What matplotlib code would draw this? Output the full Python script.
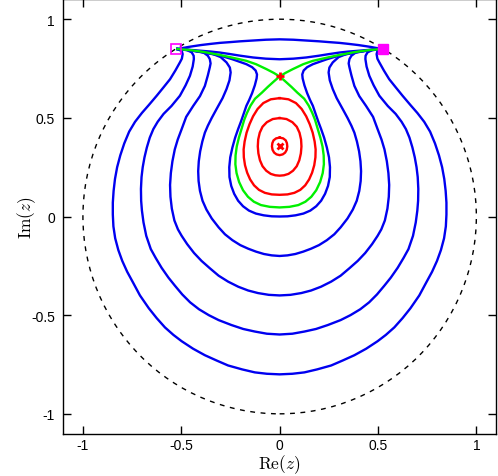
import matplotlib
matplotlib.use("Agg")
import matplotlib.pyplot as plt
from matplotlib.patches import Circle

# ---- data (left halves, x <= 0; curves are mirror-symmetric about Re(z)=0) ----
endpoint_left = (-0.527, 0.849)
endpoint_right = (0.527, 0.849)
saddle = (0.0, 0.710)
center = (0.0, 0.355)

b0_x = [-0.52, -0.46, -0.40, -0.35, -0.304, -0.25, -0.20, -0.135, -0.07, 0.0]
b0_y = [0.849, 0.860, 0.869, 0.875, 0.880, 0.884, 0.888, 0.892, 0.896, 0.898]

b1_x = [-0.52, -0.46, -0.40, -0.35, -0.304, -0.25, -0.20, -0.135, -0.07, 0.0]
b1_y = [0.849, 0.845, 0.840, 0.836, 0.831, 0.823, 0.815, 0.806, 0.800, 0.797]

u2_x = [-0.52, -0.46, -0.40, -0.34, -0.30, -0.24, -0.20, -0.169, -0.14, -0.122, -0.115, -0.117, -0.126,
        -0.140, -0.155, -0.169, -0.183, -0.197, -0.211, -0.226, -0.240, -0.251, -0.256, -0.255, -0.246,
        -0.231, -0.211, -0.186, -0.156, -0.121, -0.081, -0.040, 0.0]
u2_y = [0.849, 0.843, 0.833, 0.823, 0.815, 0.797, 0.783, 0.772, 0.757, 0.740, 0.720, 0.700, 0.665,
        0.625, 0.590, 0.561, 0.520, 0.480, 0.443, 0.400, 0.350, 0.300, 0.250, 0.200, 0.155,
        0.115, 0.080, 0.052, 0.030, 0.015, 0.006, 0.001, 0.0]

u3_x = [-0.52, -0.46, -0.40, -0.338, -0.300, -0.270, -0.253, -0.249, -0.255, -0.270, -0.290, -0.321,
        -0.345, -0.365, -0.380, -0.393, -0.404, -0.411, -0.414, -0.412, -0.405, -0.392, -0.372, -0.345,
        -0.310, -0.278, -0.240, -0.200, -0.160, -0.120, -0.080, -0.040, 0.0]
u3_y = [0.849, 0.843, 0.835, 0.823, 0.808, 0.781, 0.755, 0.730, 0.690, 0.646, 0.600, 0.544,
        0.500, 0.460, 0.425, 0.380, 0.330, 0.280, 0.230, 0.180, 0.130, 0.080, 0.035, -0.010,
        -0.055, -0.090, -0.120, -0.145, -0.163, -0.178, -0.190, -0.197, -0.200]

u4_x = [-0.52, -0.45, -0.388, -0.365, -0.355, -0.351, -0.355, -0.365, -0.380, -0.405, -0.439, -0.475,
        -0.498, -0.518, -0.533, -0.545, -0.553, -0.557, -0.555, -0.548, -0.535, -0.517, -0.498, -0.470,
        -0.435, -0.397, -0.355, -0.310, -0.262, -0.210, -0.160, -0.110, -0.055, 0.0]
u4_y = [0.849, 0.843, 0.832, 0.815, 0.798, 0.776, 0.756, 0.715, 0.662, 0.610, 0.561, 0.505,
        0.443, 0.390, 0.340, 0.280, 0.220, 0.160, 0.100, 0.040, -0.020, -0.065, -0.098, -0.140,
        -0.185, -0.225, -0.262, -0.300, -0.330, -0.356, -0.375, -0.388, -0.397, -0.400]

u5_x = [-0.52, -0.47, -0.447, -0.437, -0.436, -0.442, -0.456, -0.478, -0.507, -0.550, -0.590, -0.620,
        -0.642, -0.660, -0.675, -0.687, -0.696, -0.702, -0.705, -0.704, -0.700, -0.692, -0.678, -0.655,
        -0.630, -0.600, -0.565, -0.532, -0.495, -0.455, -0.410, -0.360, -0.310, -0.245, -0.185, -0.126,
        -0.065, 0.0]
u5_y = [0.849, 0.843, 0.832, 0.815, 0.798, 0.760, 0.713, 0.665, 0.612, 0.560, 0.520, 0.480,
        0.443, 0.400, 0.350, 0.300, 0.250, 0.200, 0.140, 0.080, 0.030, -0.030, -0.098, -0.165,
        -0.210, -0.260, -0.310, -0.351, -0.395, -0.435, -0.470, -0.500, -0.525, -0.550, -0.570, -0.583,
        -0.594, -0.598]

u6_x = [-0.52, -0.497, -0.493, -0.497, -0.507, -0.530, -0.557, -0.590, -0.625, -0.665, -0.700, -0.735,
        -0.765, -0.790, -0.810, -0.826, -0.837, -0.844, -0.848, -0.848, -0.845, -0.836, -0.820, -0.800,
        -0.775, -0.745, -0.710, -0.665, -0.625, -0.583, -0.540, -0.498, -0.440, -0.380, -0.320, -0.262,
        -0.190, -0.126, -0.065, 0.0]
u6_y = [0.849, 0.838, 0.823, 0.800, 0.781, 0.740, 0.696, 0.655, 0.612, 0.565, 0.525, 0.480,
        0.430, 0.370, 0.310, 0.250, 0.190, 0.130, 0.070, 0.010, -0.050, -0.110, -0.170, -0.225,
        -0.280, -0.335, -0.400, -0.465, -0.515, -0.562, -0.600, -0.632, -0.670, -0.703, -0.730, -0.755,
        -0.775, -0.790, -0.797, -0.800]

g_branch_x = [-0.52, -0.45, -0.38, -0.30, -0.24, -0.169, -0.12, -0.067, -0.03, 0.0]
g_branch_y = [0.849, 0.843, 0.833, 0.818, 0.805, 0.789, 0.772, 0.747, 0.728, 0.710]
g_lobe_x = [0.0, -0.03, -0.06, -0.09, -0.125, -0.148, -0.166, -0.180, -0.194, -0.207, -0.218, -0.224,
            -0.225, -0.219, -0.206, -0.186, -0.161, -0.131, -0.095, -0.050, 0.0]
g_lobe_y = [0.710, 0.684, 0.657, 0.628, 0.597, 0.562, 0.525, 0.490, 0.443, 0.400, 0.355, 0.310,
            0.265, 0.220, 0.175, 0.133, 0.100, 0.075, 0.058, 0.049, 0.046]

r1_x = [0.0, -0.045, -0.083, -0.112, -0.135, -0.153, -0.168, -0.178, -0.183, -0.182, -0.176, -0.165,
        -0.150, -0.130, -0.105, -0.075, -0.040, 0.0]
r1_y = [0.600, 0.594, 0.575, 0.545, 0.508, 0.468, 0.425, 0.380, 0.340, 0.300, 0.260, 0.222,
        0.188, 0.158, 0.135, 0.120, 0.112, 0.110]
r2_x = [0.0, -0.035, -0.065, -0.087, -0.101, -0.109, -0.111, -0.108, -0.100, -0.087, -0.068, -0.045,
        -0.022, 0.0]
r2_y = [0.499, 0.494, 0.478, 0.455, 0.425, 0.390, 0.355, 0.320, 0.285, 0.255, 0.232, 0.216,
        0.209, 0.207]
r3_x = [0.0, -0.018, -0.031, -0.037, -0.039, -0.036, -0.028, -0.016, 0.0]
r3_y = [0.400, 0.396, 0.386, 0.372, 0.355, 0.338, 0.324, 0.315, 0.311]

ticks = [-1, -0.5, 0, 0.5, 1]
tick_labels = ["-1", "-0.5", "0", "0.5", "1"]


# ---- helpers ----
def mirror(xs, ys):
    """left half ending at x=0 -> full symmetric curve"""
    fx = list(xs) + [-x for x in reversed(xs[:-1])]
    fy = list(ys) + list(reversed(ys[:-1]))
    return fx, fy


plt.rcParams['font.family'] = ['Liberation Sans', 'DejaVu Sans']
plt.rcParams['mathtext.fontset'] = 'cm'

fig = plt.figure(figsize=(4.98, 4.77), dpi=100)
ax = fig.add_axes([0.127, 0.089, 0.869, 0.910])

BLUE = '#0000f0'
GREEN = '#00f000'
RED = '#ff0000'
lw = 1.7

ax.add_patch(Circle((0, 0), 1.0, fill=False, ls=(0, (3.5, 4.0)), lw=1.0, color='black'))

for xs, ys in [(b0_x, b0_y), (b1_x, b1_y), (u2_x, u2_y), (u3_x, u3_y),
               (u4_x, u4_y), (u5_x, u5_y), (u6_x, u6_y)]:
    fx, fy = mirror(xs, ys)
    ax.plot(fx, fy, color=BLUE, lw=lw, solid_joinstyle='round')

# green separatrix: left branch -> lobe -> right branch
lx, ly = mirror(g_lobe_x, g_lobe_y)
gx = list(g_branch_x) + lx[1:] + [-x for x in reversed(g_branch_x[:-1])]
gy = list(g_branch_y) + ly[1:] + list(reversed(g_branch_y[:-1]))
ax.plot(gx, gy, color=GREEN, lw=lw, solid_joinstyle='round')

for xs, ys in [(r1_x, r1_y), (r2_x, r2_y), (r3_x, r3_y)]:
    fx, fy = mirror(xs, ys)
    ax.plot(fx, fy, color=RED, lw=lw, solid_joinstyle='round')

ax.plot([saddle[0]], [saddle[1]], marker='+', color=RED, ms=6, mew=2)
ax.plot([center[0]], [center[1]], marker='x', color=RED, ms=5, mew=2)
ax.plot([endpoint_left[0]], [endpoint_left[1]], marker='s', mfc='none', mec='#ff00ff', ms=6.5, mew=1.2)
ax.plot([endpoint_right[0]], [endpoint_right[1]], marker='s', mfc='#ff00ff', mec='#ff00ff', ms=6.5)

ax.set_xlim(-1.1, 1.1)
ax.set_ylim(-1.1, 1.1)
ax.set_xticks(ticks)
ax.set_xticklabels(tick_labels)
ax.set_yticks(ticks)
ax.set_yticklabels(tick_labels)
ax.tick_params(direction='in', length=6, width=1, top=True, right=True, labelsize=10, pad=6)
ax.tick_params(axis='x', pad=3.5)
for s in ax.spines.values():
    s.set_linewidth(1.0)
ax.set_xlabel(r'$\mathrm{Re}(z)$', fontsize=12.5, va='bottom')
ax.set_ylabel(r'$\mathrm{Im}(z)$', fontsize=12.5)
ax.xaxis.set_label_coords(0.5, -0.095)
ax.yaxis.set_label_coords(-0.058, 0.5)

fig.savefig('out.png', dpi=100)
